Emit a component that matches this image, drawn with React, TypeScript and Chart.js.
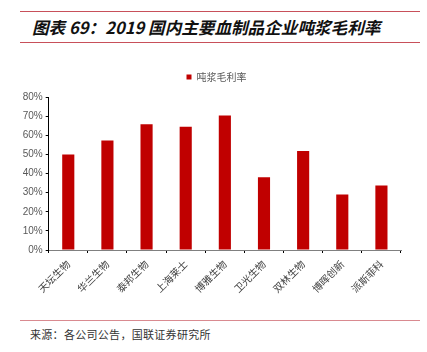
import React, { useEffect, useRef } from "react";
import { Chart, registerables } from "chart.js";

Chart.register(...registerables);

const categories = ["天坛生物", "华兰生物", "泰邦生物", "上海莱士", "博雅生物", "卫光生物", "双林生物", "博晖创新", "派斯菲科"];
const grossMargin = [50, 57.2, 65.7, 64.4, 70.3, 38, 51.8, 29, 33.7];
const seriesName = "吨浆毛利率";
const yTicks = [0, 10, 20, 30, 40, 50, 60, 70, 80];
const titleText = "图表 69：2019 国内主要血制品企业吨浆毛利率";
const sourceText = "来源：各公司公告，国联证券研究所";

const CJK = '"Noto Sans CJK SC", "Liberation Sans", sans-serif';

export default function App() {
  const ref = useRef<HTMLCanvasElement | null>(null);

  useEffect(() => {
    if (!ref.current) return;
    const legendSpace = {
      id: "legendSpace",
      beforeInit(chart: any) {
        const orig = chart.legend.fit;
        chart.legend.fit = function () {
          orig.call(this);
          this.height += 5;
        };
      },
      afterLayout(chart: any) {
        const lg = chart.legend;
        if (lg) {
          lg.left += 12;
          lg.right += 12;
        }
      },
    };
    const chart = new Chart(ref.current, {
      type: "bar",
      data: {
        labels: categories,
        datasets: [
          {
            label: seriesName,
            data: grossMargin,
            backgroundColor: "#C00000",
            borderWidth: 0,
            barPercentage: 0.31,
            categoryPercentage: 1,
          },
        ],
      },
      options: {
        animation: false,
        responsive: false,
        maintainAspectRatio: false,
        layout: { padding: { left: 8, right: 26, top: 2, bottom: 0 } },
        plugins: {
          legend: {
            display: true,
            position: "top",
            labels: {
              boxWidth: 5,
              boxHeight: 5,
              color: "#595959",
              font: { size: 10, family: CJK },
              padding: 10,
            },
          },
          tooltip: { enabled: false },
        },
        scales: {
          x: {
            grid: {
              display: true,
              drawOnChartArea: false,
              drawTicks: true,
              tickLength: 3,
              color: "#000",
              offset: true,
            },
            border: { display: true, color: "#808080", width: 1 },
            ticks: {
              color: "#404040",
              font: { size: 10, family: CJK },
              maxRotation: 45,
              minRotation: 45,
              autoSkip: false,
              padding: 5,
            },
            afterFit(scale: any) {
              scale.height = 60;
            },
          },
          y: {
            min: 0,
            max: 80,
            afterBuildTicks(scale: any) {
              scale.ticks = yTicks.map((v) => ({ value: v }));
            },
            grid: {
              display: true,
              drawOnChartArea: false,
              drawTicks: true,
              tickLength: 3,
              color: "#000",
            },
            border: { display: true, color: "#000", width: 1 },
            ticks: {
              color: "#595959",
              font: { size: 10, family: '"Liberation Sans", Arial, sans-serif' },
              padding: 3,
              callback: (v: any) => v + "%",
            },
            afterFit(scale: any) {
              scale.width = 40.7;
            },
          },
        },
      },
      plugins: [legendSpace],
    });
    return () => chart.destroy();
  }, []);

  return (
    <div style={{ position: "absolute", left: 0, top: 0, width: 427, height: 352, background: "#fff", overflow: "hidden" }}>
      <div style={{ position: "absolute", left: 20, top: 11, width: 400, height: 1, background: "#C8505A" }} />
      <div
        style={{
          position: "absolute",
          left: 32,
          top: 14,
          fontFamily: CJK,
          fontWeight: 700,
          fontStyle: "italic",
          fontSize: 16.6,
          lineHeight: "26px",
          color: "#111",
          whiteSpace: "nowrap",
          letterSpacing: 0,
        }}
      >
        {titleText}
      </div>
      <div style={{ position: "absolute", left: 20, top: 42, width: 400, height: 1, background: "#C8505A" }} />
      <canvas ref={ref} width={427} height={250} style={{ position: "absolute", left: 0, top: 60, width: 427, height: 250 }} />
      <div style={{ position: "absolute", left: 20, top: 320, width: 400, height: 1, background: "#D98A90" }} />
      <div
        style={{
          position: "absolute",
          left: 30,
          top: 326,
          fontFamily: CJK,
          fontSize: 11,
          lineHeight: "16px",
          color: "#333",
          whiteSpace: "nowrap",
          letterSpacing: 0.3,
        }}
      >
        {sourceText}
      </div>
    </div>
  );
}
